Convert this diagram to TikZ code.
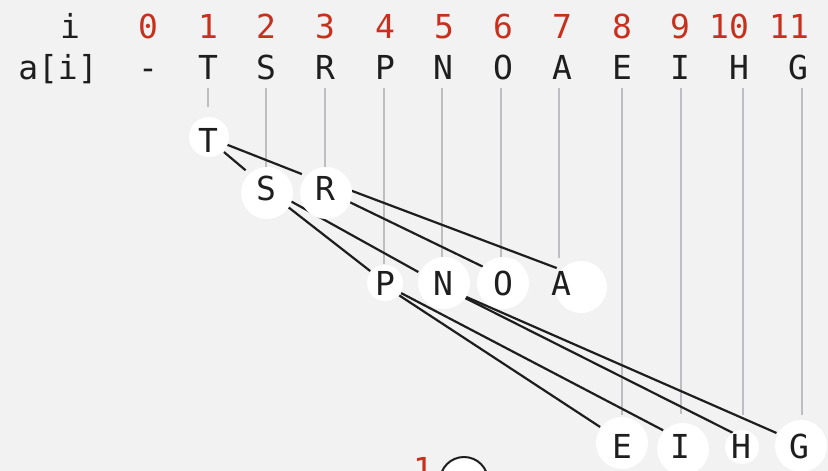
\documentclass[tikz,border=0pt]{standalone}
\usepackage{fontspec}
\setmainfont{DejaVu Sans Mono}
\definecolor{bgc}{RGB}{242,242,242}
\definecolor{idx}{RGB}{200,48,30}
\definecolor{guide}{RGB}{190,190,194}
\definecolor{ink}{RGB}{30,30,30}
\pgfdeclarelayer{bglayer}
\pgfdeclarelayer{edgelayer}
\pgfsetlayers{bglayer,edgelayer,main}
\tikzset{
  lbl/.style={font=\fontsize{33}{36}\selectfont, text=ink, inner sep=0pt, anchor=base},
  idxlbl/.style={lbl, text=idx},
  key/.style={circle, inner sep=0pt, outer sep=0pt, font=\fontsize{33}{36}\selectfont, text=ink},
  disc/.style={circle, fill=white, inner sep=0pt, outer sep=0pt},
  guideline/.style={draw=guide, line width=2pt},
  link/.style={draw=ink, line width=2.2pt},
}
\begin{document}
\begin{tikzpicture}[x=1pt,y=-1pt]
\useasboundingbox (0,0) rectangle (828,471);
\begin{pgfonlayer}{bglayer}
\fill[bgc] (0,0) rectangle (828,471);
\end{pgfonlayer}

% header row: indices
\node[lbl] (hi) at (70,38) {i};
\foreach \n/\x in {0/148,1/208,2/266,3/325,4/385,5/444,6/503,7/562,8/622,9/680,10/729,11/789}
  \node[idxlbl] (d\n) at (\x,38) {\n};

% second row: array contents
\node[lbl] (ha) at (58,79) {a[i]};
\node[lbl] (r0) at (148,79) {-};
\foreach \n/\x/\t in {1/208/T,2/266/S,3/325/R,4/385/P,5/443/N,6/503/O,7/562/A,8/622/E,9/680/I,10/739/H,11/798/G}
  \node[lbl] (r\n) at (\x,79) {\t};

% gray guide lines
\begin{pgfonlayer}{bglayer}
\foreach \n/\x/\y in {1/208/107,2/266/172,3/325/172,4/384/264,5/442/257,6/501/257,7/559/258,8/622/415,9/681/414,10/743/415,11/802/415}{
  \coordinate (gt\n) at (\x,88);
  \coordinate (gb\n) at (\x,\y);
  \draw[guideline] (gt\n) -- (gb\n);
}
\end{pgfonlayer}

% white discs
\node[disc, minimum size=40pt] (cT) at (209,137) {};
\node[disc, minimum size=52pt] (cS) at (267,193) {};
\node[disc, minimum size=52pt] (cR) at (326,193) {};
\node[disc, minimum size=36pt] (cP) at (385,283) {};
\node[disc, minimum size=52pt] (cN) at (444,283) {};
\node[disc, minimum size=52pt] (cO) at (503,283) {};
\node[disc, minimum size=52pt] (cA) at (581,287) {};
\node[disc, minimum size=52pt] (cE) at (622,443) {};
\node[disc, minimum size=52pt] (cI) at (683,449) {};
\node[disc, minimum size=34pt] (cH) at (742,447) {};
\node[disc, minimum size=52pt] (cG) at (801,446) {};

% keys
\node[key, minimum size=40pt] (T) at (208,140) {T};
\node[key, minimum size=54pt] (S) at (266,188) {S};
\node[key, minimum size=54pt] (R) at (325,188) {R};
\node[key, minimum size=38pt] (P) at (385,283) {P};
\node[key, minimum size=54pt] (N) at (443,283) {N};
\node[key, minimum size=52pt] (O) at (503,283) {O};
\node[key, minimum size=30pt] (A) at (561,283) {A};
\node[key, minimum size=58pt] (E) at (622,446) {E};
\node[key, minimum size=46pt] (I) at (680,446) {I};
\node[key, minimum size=30pt] (H) at (741,446) {H};
\node[key, minimum size=52pt] (G) at (799,446) {G};

% tree links
\begin{pgfonlayer}{edgelayer}
\draw[link] (T.-37) -- (S.139);
\draw[link] (T.-14) -- (R.149);
\draw[link] (S.-41) -- (P.141);
\draw[link] (S.-28) -- (N.156);
\draw[link] (R.-30) -- (O.141);
\draw[link] (R.-6) -- (A.106);
\draw[link] (P.-41) -- (E.139);
\draw[link] (P.-32) -- (I.137);
\draw[link] (N.-34) -- (H.122);
\draw[link] (N.-31) -- (G.150);
\end{pgfonlayer}

% bottom partial element (cut off at the lower edge, as in the reference)
\node[idxlbl] (one) at (423,481) {1};
\node[circle, draw=ink, line width=2pt, fill=white, inner sep=0pt, minimum size=48pt] (bot) at (464,481) {};
\end{tikzpicture}
\end{document}
